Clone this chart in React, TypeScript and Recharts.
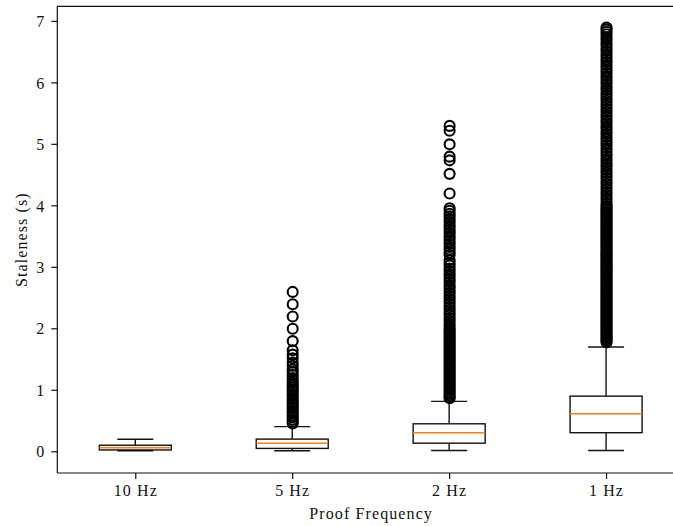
import { Bar, ComposedChart, ReferenceLine, Scatter, XAxis, YAxis } from "recharts"

const categories = ["10 Hz", "5 Hz", "2 Hz", "1 Hz"]
const whiskerLow = [0.016, 0.016, 0.02, 0.02]
const quartile1 = [0.03, 0.055, 0.14, 0.31]
const medians = [0.065, 0.137, 0.31, 0.618]
const quartile3 = [0.107, 0.206, 0.455, 0.905]
const whiskerHigh = [0.205, 0.41, 0.82, 1.705]

const fliers5Hz = [
    2.6, 2.4, 2.2, 2.0, 1.8, 1.65, 1.58, 1.52, 1.45, 1.4, 1.34, 1.3, 1.25, 1.2,
    1.16, 1.12, 1.08, 1.05, 1.01, 0.98, 0.94, 0.91, 0.87, 0.84, 0.8, 0.77, 0.73,
    0.7, 0.66, 0.63, 0.59, 0.56, 0.52, 0.49, 0.46,
]
const fliers2Hz = [
    5.3, 5.22, 5.0, 4.8, 4.74, 4.52, 4.2, 3.96, 3.92, 3.87, 3.83, 3.78, 3.74,
    3.69, 3.65, 3.6, 3.56, 3.51, 3.47, 3.42, 3.38, 3.33, 3.29, 3.24, 3.2, 3.12,
    3.07, 3.03, 2.98, 2.94, 2.89, 2.85, 2.8, 2.76, 2.71, 2.67, 2.62, 2.58, 2.53,
    2.49, 2.44, 2.4, 2.35, 2.31, 2.26, 2.22, 2.17, 2.13, 2.08, 2.04, 2.0, 1.97,
    1.94, 1.91, 1.88, 1.85, 1.82, 1.79, 1.76, 1.73, 1.7, 1.67, 1.64, 1.61, 1.58,
    1.55, 1.52, 1.49, 1.46, 1.43, 1.4, 1.37, 1.34, 1.31, 1.28, 1.25, 1.22, 1.19,
    1.16, 1.13, 1.1, 1.07, 1.04, 1.01, 0.98, 0.95, 0.92, 0.89, 0.87,
]
const fliers1Hz = [
    1.78, 1.8, 1.83, 1.85, 1.88, 1.9, 1.93, 1.95, 1.98, 2.0, 2.03, 2.05, 2.08,
    2.1, 2.13, 2.15, 2.18, 2.2, 2.23, 2.25, 2.28, 2.3, 2.33, 2.35, 2.38, 2.4,
    2.43, 2.45, 2.48, 2.5, 2.53, 2.55, 2.58, 2.6, 2.63, 2.65, 2.68, 2.7, 2.73,
    2.75, 2.78, 2.8, 2.83, 2.85, 2.88, 2.9, 2.93, 2.95, 2.98, 3.0, 3.03, 3.05,
    3.08, 3.1, 3.13, 3.15, 3.18, 3.2, 3.23, 3.25, 3.28, 3.3, 3.33, 3.35, 3.38,
    3.4, 3.43, 3.45, 3.48, 3.5, 3.53, 3.55, 3.58, 3.6, 3.63, 3.65, 3.68, 3.7,
    3.73, 3.75, 3.78, 3.8, 3.83, 3.85, 3.88, 3.9, 3.93, 3.95, 3.98, 4.0, 4.04,
    4.09, 4.13, 4.18, 4.22, 4.27, 4.31, 4.36, 4.4, 4.45, 4.49, 4.54, 4.58, 4.63,
    4.67, 4.72, 4.76, 4.81, 4.85, 4.9, 4.94, 4.99, 5.03, 5.08, 5.12, 5.17, 5.21,
    5.26, 5.3, 5.35, 5.39, 5.44, 5.48, 5.53, 5.57, 5.62, 5.66, 5.71, 5.75, 5.8,
    5.84, 5.89, 5.93, 5.98, 6.02, 6.07, 6.11, 6.16, 6.2, 6.25, 6.29, 6.34, 6.38,
    6.43, 6.47, 6.52, 6.56, 6.61, 6.65, 6.7, 6.74, 6.79, 6.83, 6.87, 6.9,
]

const yTicks = [0, 1, 2, 3, 4, 5, 6, 7]
const Y_MIN = -0.345
const Y_MAX = 7.245

const boxes = categories.map((name, i) => ({
    name,
    lo: whiskerLow[i],
    q1: quartile1[i],
    med: medians[i],
    q3: quartile3[i],
    hi: whiskerHigh[i],
    range: [whiskerLow[i], whiskerHigh[i]],
}))

const font = "'Liberation Serif', serif"
const ink = "#111"
const textStyle = { fill: ink, fontSize: 16, fontFamily: font, letterSpacing: 1.1 }

function BoxShape(props: any) {
    const { x, y, width, height, payload } = props
    if (payload == null || !isFinite(y) || !isFinite(height)) return null
    const { lo, hi, q1, q3, med } = payload
    const top = Math.min(y, y + height)
    const h = Math.abs(height)
    const toY = (v: number) => top + (h * (hi - v)) / (hi - lo)
    const cx = x + width / 2
    const cap = width / 4
    return (
        <g>
            <line x1={cx} x2={cx} y1={toY(hi)} y2={toY(q3)} stroke={ink} strokeWidth={1.4} />
            <line x1={cx} x2={cx} y1={toY(q1)} y2={toY(lo)} stroke={ink} strokeWidth={1.4} />
            <line x1={cx - cap} x2={cx + cap} y1={toY(hi)} y2={toY(hi)} stroke={ink} strokeWidth={1.4} />
            <line x1={cx - cap} x2={cx + cap} y1={toY(lo)} y2={toY(lo)} stroke={ink} strokeWidth={1.4} />
            <rect
                x={x}
                y={toY(q3)}
                width={width}
                height={toY(q1) - toY(q3)}
                fill="none"
                stroke={ink}
                strokeWidth={1.4}
            />
            <line x1={x} x2={x + width} y1={toY(med)} y2={toY(med)} stroke="#ff7f0e" strokeWidth={1.5} />
        </g>
    )
}

function Ring(props: any) {
    const { cx, cy } = props
    if (!isFinite(cx) || !isFinite(cy)) return null
    return <circle cx={cx} cy={cy} r={5} fill="none" stroke="#000" strokeWidth={2.1} />
}

const flierSets = [
    { name: "5 Hz", values: fliers5Hz },
    { name: "2 Hz", values: fliers2Hz },
    { name: "1 Hz", values: fliers1Hz },
]

export default function App() {
    return (
        <div
            style={{
                position: "absolute",
                left: 0,
                top: 0,
                width: 673,
                height: 526,
                overflow: "hidden",
                background: "#fff",
            }}
        >
            <ComposedChart
                width={685}
                height={526}
                data={boxes}
                margin={{ top: 6.3, right: 0, bottom: 0, left: 0 }}
            >
                <XAxis
                    dataKey="name"
                    type="category"
                    allowDuplicatedCategory={false}
                    height={53}
                    tickSize={6}
                    tickMargin={6}
                    axisLine={{ stroke: ink, strokeWidth: 1.2 }}
                    tickLine={{ stroke: ink, strokeWidth: 1.2 }}
                    tick={textStyle}
                    label={{
                        value: "Proof Frequency",
                        position: "insideBottom",
                        offset: 7,
                        style: textStyle,
                    }}
                />
                <YAxis
                    type="number"
                    domain={[Y_MIN, Y_MAX]}
                    allowDataOverflow
                    ticks={yTicks}
                    width={57.3}
                    tickSize={6}
                    tickMargin={7}
                    axisLine={{ stroke: ink, strokeWidth: 1.2 }}
                    tickLine={{ stroke: ink, strokeWidth: 1.2 }}
                    tick={{ fill: ink, fontSize: 16, fontFamily: font }}
                    label={{
                        value: "Staleness (s)",
                        angle: -90,
                        position: "insideLeft",
                        offset: 21,
                        style: { ...textStyle, textAnchor: "middle" },
                    }}
                />
                <ReferenceLine y={Y_MAX} stroke={ink} strokeWidth={1.2} />
                <Bar dataKey="range" barSize={72} shape={<BoxShape />} isAnimationActive={false} />
                {flierSets.map((set) => (
                    <Scatter
                        key={set.name}
                        data={set.values.map((v) => ({ name: set.name, v }))}
                        dataKey="v"
                        shape={<Ring />}
                        isAnimationActive={false}
                    />
                ))}
            </ComposedChart>
        </div>
    )
}
